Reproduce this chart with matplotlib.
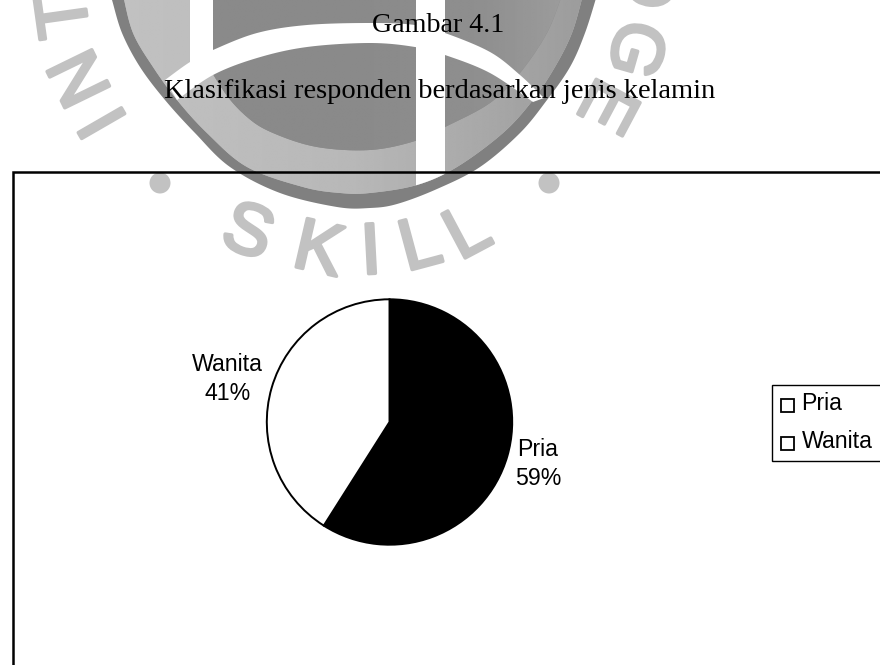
import numpy as np
import matplotlib
matplotlib.use("Agg")
import matplotlib.pyplot as plt
from matplotlib.path import Path
from matplotlib.patches import PathPatch, Circle, Rectangle
from matplotlib.patheffects import withStroke

W, H = 880, 665

labels = ["Pria", "Wanita"]
values = [59, 41]
slice_colors = ["black", "white"]

caption_number = "Gambar 4.1"
caption_title = "Klasifikasi responden berdasarkan jenis kelamin"


def smooth(points, n=16):
    # Catmull-Rom through the outline points
    p = np.array(points, dtype=float)
    p = np.vstack([p[0], p, p[-1]])
    out = []
    for i in range(1, len(p) - 2):
        t = np.linspace(0, 1, n, endpoint=False)[:, None]
        a, b, c, d = p[i - 1], p[i], p[i + 1], p[i + 2]
        out.append(0.5 * (2 * b + (c - a) * t + (2 * a - 5 * b + 4 * c - d) * t**2
                          + (3 * b - a - 3 * c + d) * t**3))
    out.append(p[-2][None, :])
    return np.vstack(out)


def shape(ax, outline, color, z):
    verts = np.vstack([outline, outline[0]])
    patch = PathPatch(Path(verts), fc=color, ec="none", zorder=z)
    ax.add_patch(patch)
    return patch


def gradient(ax, clip, stops, z):
    # horizontal grey ramp limited to the clip shape
    ramp = np.interp(np.linspace(0, 1, 256), np.linspace(0, 1, len(stops)), stops)
    im = ax.imshow(ramp[None, :], extent=[100, 610, 215, -5], cmap="gray", vmin=0, vmax=1,
                   aspect="auto", zorder=z, interpolation="bilinear")
    im.set_clip_path(clip)


fig = plt.figure(figsize=(W / 100, H / 100), dpi=100)

# page layer in pixel coordinates
bg = fig.add_axes([0, 0, 1, 1])
bg.set_xlim(0, W)
bg.set_ylim(H, 0)
bg.axis("off")

# ------------------------------------------------------------
# shield watermark
# ------------------------------------------------------------
outer = smooth([(110, -5), (112, 0), (122, 33), (140, 67), (165, 100), (195, 133), (230, 167),
                (280, 193), (337, 207), (370, 208), (397, 204), (437, 189), (480, 167),
                (520, 133), (547, 100), (570, 67), (585, 33), (597, -5)])
inner = smooth([(123, -5), (133, 33), (153, 67), (177, 100), (207, 133), (247, 167),
                (303, 187), (340, 193), (370, 193), (417, 185), (457, 167), (503, 133),
                (533, 100), (555, 67), (572, 33), (583, -5)])
core = smooth([(200, -5), (203, 50), (223, 90), (247, 117), (273, 133), (317, 147),
               (370, 150), (415, 141), (445, 127), (490, 103), (520, 73), (547, 33),
               (562, -5)])

shape(bg, outer, "#808080", 1)
light = shape(bg, inner, "#bcbcbc", 2)
gradient(bg, light, [0.76, 0.74, 0.72, 0.66, 0.60], 2)
dark = shape(bg, core, "#8c8c8c", 3)
gradient(bg, dark, [0.54, 0.54, 0.54, 0.56, 0.64], 3)

# white cross cut into the shield
bar = Rectangle((416, -5), 29, 195, fc="white", ec="none", zorder=4)
bg.add_patch(bar)
bar.set_clip_path(light)
bg.add_patch(Rectangle((190, -5), 23, 67, fc="white", ec="none", zorder=4))
arc_top = smooth([(165, 80), (190, 62), (213, 50), (257, 33), (307, 25), (370, 23), (415, 25),
                  (445, 33), (490, 52), (520, 75), (544, 98)])
arc_low = smooth([(533, 102), (490, 73), (445, 55), (415, 47), (370, 43), (307, 47),
                  (257, 58), (213, 75), (177, 100)])
shape(bg, np.vstack([arc_top, arc_low]), "white", 4)

# ring lettering and dots
letters = [("I", 107, 120, 120), ("N", 84, 76, 116), ("T", 68, 15, 98),
           ("S", 247, 235, -20), ("K", 318, 253, -13), ("I", 371, 255, 3),
           ("L", 421, 248, 15), ("L", 469, 235, 28),
           ("D", 645, -18, -95), ("G", 632, 48, -106), ("E", 604, 104, -118)]
for ch, x, y, rot in letters:
    bg.text(x, y, ch, fontsize=52, family="Liberation Sans", color="#c2c2c2",
            rotation=rot, rotation_mode="anchor", ha="center", va="center", zorder=5,
            path_effects=[withStroke(linewidth=2.5, foreground="#c2c2c2")])
for x in (160, 549):
    bg.add_patch(Circle((x, 183), 10.5, fc="#c2c2c2", ec="none", zorder=5))

# ------------------------------------------------------------
# chart frame, pie, legend
# ------------------------------------------------------------
bg.plot([12.8, 12.8, W + 5], [H + 5, 172.3, 172.3], color="black", lw=1.8, zorder=6,
        solid_joinstyle="miter")

pie_ax = fig.add_axes([266.8 / W, 1 - 544.7 / H, 245.4 / W, 245.4 / H])
wedges, _ = pie_ax.pie(values, colors=slice_colors, startangle=90, counterclock=False,
                       radius=1.0, wedgeprops={"edgecolor": "black", "linewidth": 1.4})
pie_ax.set_xlim(-1, 1)
pie_ax.set_ylim(-1, 1)

label_pos = [(538, 464), (227.5, 379)]
for name, val, (x, y) in zip(labels, values, label_pos):
    bg.text(x, y, f"{name}\n{val}%", fontsize=16.7, family="Liberation Sans", ha="center",
            va="center", linespacing=1.3, zorder=7)

bg.add_patch(Rectangle((771.5, 384.5), 120, 76.5, fc="white", ec="black", lw=1, zorder=6))
for name, y in zip(labels, (403, 441.5)):
    bg.add_patch(Rectangle((780.5, y - 4.5), 13, 13, fc="white", ec="black", lw=1.3, zorder=7))
    bg.text(801.5, y, name, fontsize=16.7, family="Liberation Sans", va="center", zorder=7)

# ------------------------------------------------------------
# caption
# ------------------------------------------------------------
bg.text(438, 25, caption_number, fontsize=20.2, family="Liberation Serif", ha="center",
        va="center", zorder=8)
bg.text(440, 92, caption_title, fontsize=20.5, family="Liberation Serif", ha="center",
        va="center", zorder=8)

fig.savefig("out.png", dpi=100, facecolor="white")
